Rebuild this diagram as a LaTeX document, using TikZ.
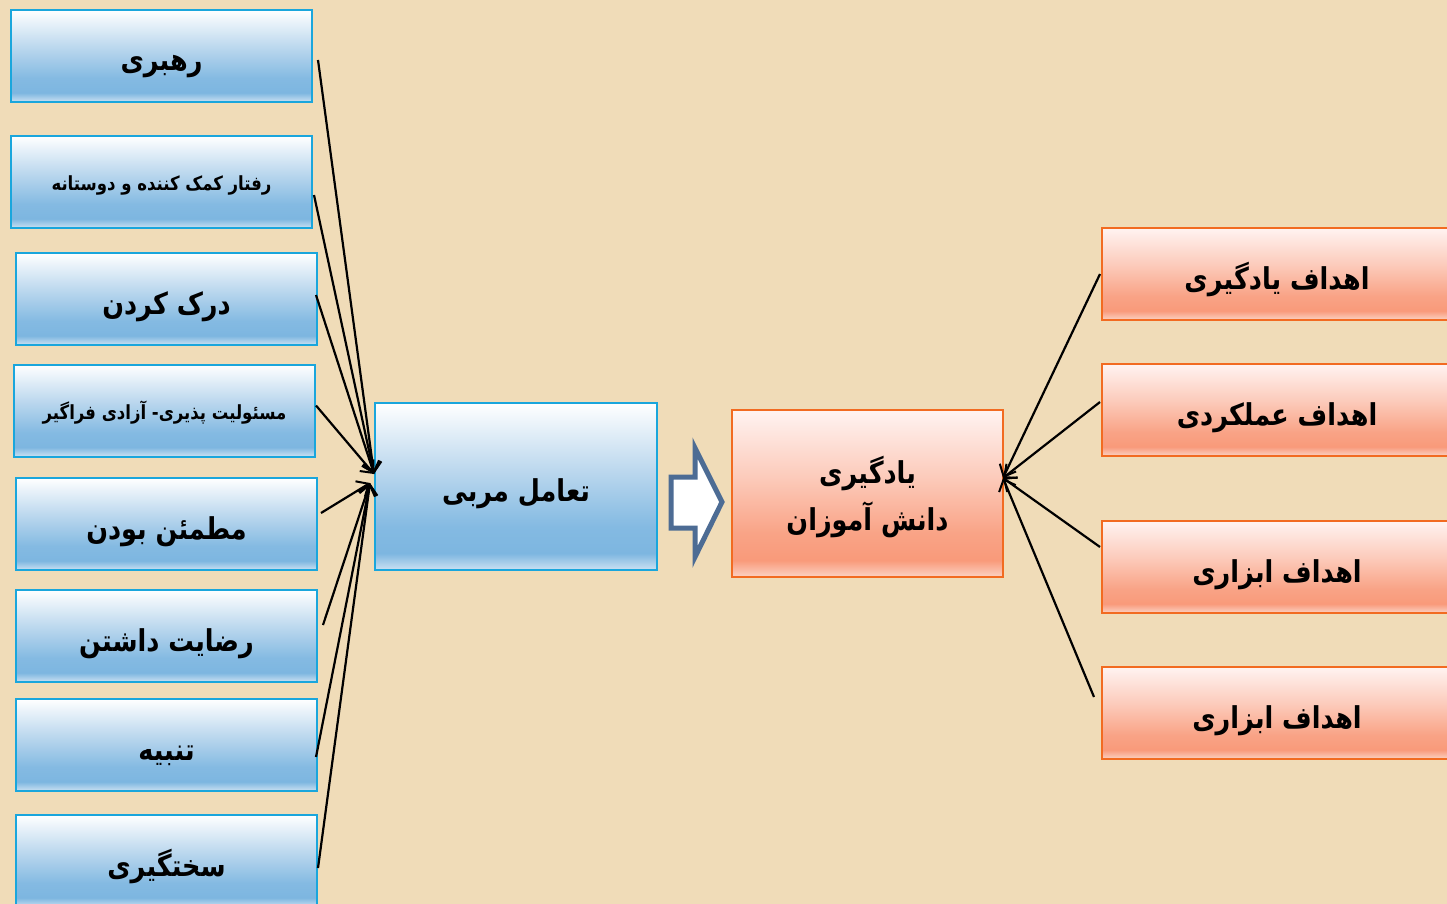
\documentclass[tikz,border=0pt]{standalone}
\usepackage{fontspec}
\TeXXeTstate=1
\newfontfamily\arabicfont[Script=Arabic]{DejaVu Sans}
\usetikzlibrary{arrows.meta}
\newcommand{\artxt}[2][15pt]{\raisebox{-#1}[0pt][0pt]{\scalebox{1}[1.18]{\beginR #2\endR}}}
\definecolor{bgcol}{HTML}{F0DCB8}
\definecolor{bborder}{HTML}{1AA6DC}
\definecolor{oborder}{HTML}{F26B21}
\definecolor{blockarrow}{HTML}{4D6C94}
\definecolor{bA}{HTML}{CCE1F2}
\definecolor{bB}{HTML}{7DB6E0}
\definecolor{bC}{HTML}{84BAE2}
\definecolor{bD}{HTML}{BCD8EE}
\definecolor{oA}{HTML}{FBD2C4}
\definecolor{oB}{HTML}{F99A7A}
\definecolor{oC}{HTML}{F9A386}
\definecolor{oD}{HTML}{FCCBBB}
\definecolor{oE}{HTML}{FFF3F1}
\pgfdeclareverticalshading{blueshade}{100bp}{color(0bp)=(bA); color(25bp)=(bA); color(30bp)=(bB); color(38bp)=(bC); color(55bp)=(bD); color(75bp)=(white); color(100bp)=(white)}
\pgfdeclareverticalshading{orangeshade}{100bp}{color(0bp)=(oA); color(25bp)=(oA); color(30bp)=(oB); color(38bp)=(oC); color(55bp)=(oD); color(75bp)=(oE); color(100bp)=(oE)}
\tikzset{
  bluebox/.style={draw=bborder, line width=2pt, shading=blueshade, minimum width=301pt, minimum height=92pt, inner sep=0pt, font=\arabicfont\bfseries\fontsize{25.5}{30}\selectfont, align=center},
  smalltext/.style={font=\arabicfont\bfseries\fontsize{16.5}{20}\selectfont},
  orangebox/.style={draw=oborder, line width=2pt, shading=orangeshade, minimum width=350pt, minimum height=92pt, inner sep=0pt, font=\arabicfont\bfseries\fontsize{25.5}{30}\selectfont, align=center},
  conn/.style={line width=2.2pt, -{Straight Barb[length=10pt,width=18pt,line width=2pt]}},
}
\begin{document}
\begin{tikzpicture}[x=1pt,y=-1pt]
\fill[bgcol] (0,0) rectangle (1447,904);
\useasboundingbox (0,0) rectangle (1447,904);
% left column
\node[bluebox] (l1) at (161.5,56) {\artxt{رهبری}};
\node[bluebox,smalltext] (l2) at (161.5,182) {\artxt[9pt]{رفتار کمک کننده و دوستانه}};
\node[bluebox] (l3) at (166.5,299) {\artxt{درک کردن}};
\node[bluebox,smalltext] (l4) at (164.5,410.5) {\artxt[9pt]{مسئولیت پذیری- آزادی فراگیر}};
\node[bluebox] (l5) at (166.5,524) {\artxt{مطمئن بودن}};
\node[bluebox] (l6) at (166.5,636) {\artxt{رضایت داشتن}};
\node[bluebox] (l7) at (166.5,745) {\artxt{تنبیه}};
\node[bluebox] (l8) at (166.5,861) {\artxt{سختگیری}};
% centre boxes
\node[bluebox, minimum width=282pt, minimum height=167pt] (m) at (516,486.5) {\artxt{تعامل مربی}};
\node[orangebox, minimum width=271pt, minimum height=167pt, font=\arabicfont\bfseries\fontsize{25.5}{47}\selectfont] (o) at (867.5,493.5) {\artxt[13pt]{یادگیری}\\\artxt[13pt]{دانش آموزان}};
% right column
\node[orangebox] (r1) at (1277,274) {\artxt{اهداف یادگیری}};
\node[orangebox] (r2) at (1277,410) {\artxt{اهداف عملکردی}};
\node[orangebox] (r3) at (1277,567) {\artxt{اهداف ابزاری}};
\node[orangebox] (r4) at (1277,713) {\artxt{اهداف ابزاری}};
% block arrow
\draw[blockarrow, line width=5pt, fill=white, line join=miter]
  (671,477) -- (695,477) -- (695,448) -- (722,502) -- (695,557) -- (695,528) -- (671,528) -- cycle;
% convergence points
\coordinate (tU) at (374,474);
\coordinate (tD) at (370,483);
\coordinate (tR) at (1003,478);
% left connectors
\draw[conn] ([xshift=5pt,yshift=-4pt]l1.east) -- (tU);
\draw[conn] ([xshift=1pt,yshift=-13pt]l2.east) -- (tU);
\draw[conn] ([xshift=-2pt,yshift=4pt]l3.east) -- (tU);
\draw[conn] ([yshift=5pt]l4.east) -- (tU);
\draw[conn] ([xshift=3pt,yshift=11pt]l5.east) -- (tD);
\draw[conn] ([xshift=5pt,yshift=11pt]l6.east) -- (tD);
\draw[conn] ([xshift=-2pt,yshift=-12pt]l7.east) -- (tD);
\draw[conn] ([yshift=-7pt]l8.east) -- (tD);
% right connectors
\draw[conn] ([xshift=-1pt]r1.west) -- (tR);
\draw[conn] ([xshift=-1pt,yshift=8pt]r2.west) -- (tR);
\draw[conn] ([xshift=-1pt,yshift=20pt]r3.west) -- (tR);
\draw[conn] ([xshift=-7pt,yshift=16pt]r4.west) -- (tR);
\end{tikzpicture}
\end{document}
